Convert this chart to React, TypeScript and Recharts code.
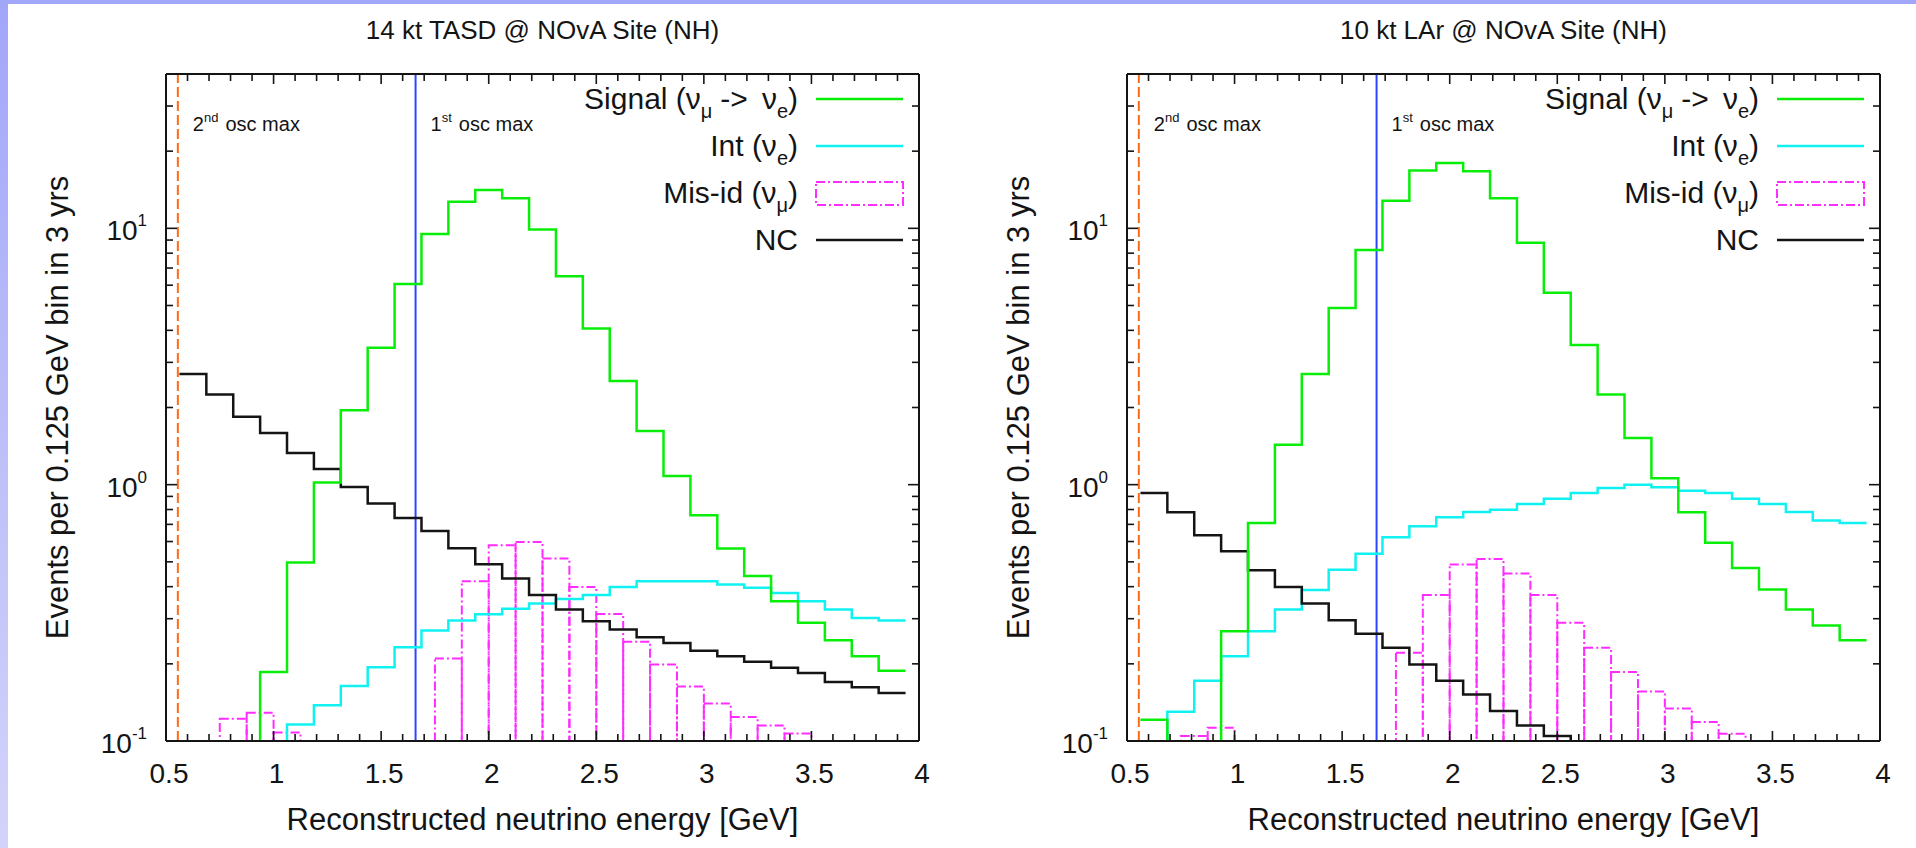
import React from 'react'
import { LineChart, Line, XAxis, YAxis, ReferenceLine, ReferenceArea } from 'recharts'

const FONT = '"Liberation Sans", Arial, Helvetica, sans-serif'
const INK = '#141414'

// reconstructed energy bins: centres in GeV, 0.125 GeV wide
const binCenters = [
  0.625, 0.75, 0.875, 1.0, 1.125, 1.25, 1.375, 1.5, 1.625, 1.75, 1.875, 2.0, 2.125, 2.25,
  2.375, 2.5, 2.625, 2.75, 2.875, 3.0, 3.125, 3.25, 3.375, 3.5, 3.625, 3.75, 3.875,
]
const BIN_WIDTH = 0.125

// mis-id boxes are drawn on a grid shifted by half a bin: lower edges in GeV
const misidLow = [
  0.75, 0.875, 1.0, 1.125, 1.25, 1.375, 1.5, 1.625, 1.75, 1.875, 2.0, 2.125, 2.25, 2.375,
  2.5, 2.625, 2.75, 2.875, 3.0, 3.125, 3.25, 3.375,
]

// 14 kt TASD (null = below the 0.1 floor of the plot)
const tasdSignal = [
  null, null, null, 0.186, 0.497, 1.02, 1.95, 3.42, 6.07, 9.5, 12.7, 14.1, 13.1, 9.9,
  6.5, 4.07, 2.54, 1.62, 1.08, 0.76, 0.564, 0.44, 0.351, 0.289, 0.247, 0.214, 0.188,
]
const tasdInt = [
  null, null, null, null, 0.116, 0.138, 0.164, 0.194, 0.232, 0.27, 0.295, 0.312, 0.328, 0.344,
  0.358, 0.371, 0.399, 0.42, 0.42, 0.42, 0.408, 0.396, 0.378, 0.351, 0.326, 0.302, 0.295,
]
const tasdNC = [
  2.7, 2.25, 1.84, 1.59, 1.33, 1.15, 0.98, 0.845, 0.742, 0.66, 0.565, 0.489, 0.43, 0.371,
  0.326, 0.293, 0.272, 0.254, 0.241, 0.225, 0.214, 0.204, 0.193, 0.184, 0.17, 0.162, 0.154,
]
const tasdMisid = [
  0.122, 0.129, 0.108, null, null, null, null, null, 0.21, 0.42, 0.58, 0.598, 0.515, 0.399,
  0.313, 0.244, 0.199, 0.163, 0.14, 0.124, 0.115, 0.107,
]

// 10 kt LAr
const larSignal = [
  0.121, null, null, 0.268, 0.709, 1.43, 2.7, 4.89, 8.23, 12.8, 16.8, 18.0, 16.7, 13.1,
  8.79, 5.61, 3.51, 2.25, 1.52, 1.06, 0.78, 0.593, 0.473, 0.39, 0.326, 0.282, 0.247,
]
const larInt = [
  null, 0.13, 0.172, 0.214, 0.268, 0.326, 0.388, 0.466, 0.538, 0.623, 0.688, 0.746, 0.782, 0.799,
  0.841, 0.882, 0.928, 0.971, 1.0, 0.976, 0.947, 0.928, 0.882, 0.841, 0.782, 0.724, 0.709,
]
const larNC = [
  0.928, 0.78, 0.635, 0.55, 0.464, 0.399, 0.344, 0.296, 0.262, 0.231, 0.199, 0.172, 0.152, 0.131,
  0.115, 0.1046, null, null, null, null, null, null, null, null, null, null, null,
]
const larMisid = [
  0.1046, 0.1127, null, null, null, null, null, null, 0.221, 0.371, 0.488, 0.513, 0.45, 0.371,
  0.289, 0.231, 0.186, 0.156, 0.134, 0.1186, 0.1068, null,
]

const xTicks = [
  0.5, 0.6, 0.7, 0.8, 0.9, 1, 1.1, 1.2, 1.3, 1.4, 1.5, 1.6, 1.7, 1.8, 1.9, 2, 2.1, 2.2, 2.3, 2.4,
  2.5, 2.6, 2.7, 2.8, 2.9, 3, 3.1, 3.2, 3.3, 3.4, 3.5, 3.6, 3.7, 3.8, 3.9, 4,
]
const yTicks = [0.1, 0.2, 0.3, 0.4, 0.5, 0.6, 0.7, 0.8, 0.9, 1, 2, 3, 4, 5, 6, 7, 8, 9, 10, 20, 30]
const X_DOMAIN: [number, number] = [0.5, 4]
const Y_DOMAIN: [number, number] = [0.1, 40]
const OSC_2ND = 0.555
const OSC_1ST = 1.66

const C = {
  signal: '#08ee08',
  int: '#10f2f2',
  misid: '#ff2cff',
  nc: INK,
  osc1: '#2a46ff',
  osc2: '#ff6a14',
}

type Pt = { x: number; y: number | null }

// histogram outline for a stepAfter line; rises from / drops to the floor around gaps
function toSteps(values: (number | null)[]): Pt[] {
  const floor = Y_DOMAIN[0]
  const pts: Pt[] = []
  values.forEach((v, i) => {
    if (v == null) return
    const lo = binCenters[i] - BIN_WIDTH / 2
    const hi = binCenters[i] + BIN_WIDTH / 2
    const prev = i > 0 ? values[i - 1] : undefined
    const last = i === values.length - 1
    const next = last ? undefined : values[i + 1]
    if (prev === null) pts.push({ x: lo, y: floor })
    pts.push({ x: lo, y: v })
    if (last) pts.push({ x: hi, y: v })
    else if (next === null) pts.push({ x: hi, y: v }, { x: hi, y: floor }, { x: hi, y: null })
  })
  return pts
}

const XTick = (props: any) => {
  const { x, y, payload, side } = props
  const v = payload.value as number
  const major = Math.abs(v * 2 - Math.round(v * 2)) < 1e-6
  const len = major ? 10 : 7
  const dir = side === 'top' ? 1 : -1
  return (
    <g>
      <line x1={x} x2={x} y1={y} y2={y + dir * len} stroke={INK} strokeWidth={1.6} />
      {side === 'bottom' && major && (
        <text x={x + 3} y={y + 42} textAnchor="middle" fontSize={28} fontFamily={FONT} fill={INK}>
          {String(v)}
        </text>
      )}
    </g>
  )
}

const YTick = (props: any) => {
  const { x, y, payload, side } = props
  const v = payload.value as number
  const e = Math.log10(v)
  const major = Math.abs(e - Math.round(e)) < 1e-6
  const len = major ? 11 : 7
  const dir = side === 'left' ? 1 : -1
  return (
    <g>
      <line x1={x} x2={x + dir * len} y1={y} y2={y} stroke={INK} strokeWidth={1.6} />
      {side === 'left' && major && (
        <text x={x - 19} y={y + 12} textAnchor="end" fontSize={28} fontFamily={FONT} fill={INK}>
          10
          <tspan dy={-14} fontSize={17}>
            {String(Math.round(e))}
          </tspan>
        </text>
      )}
    </g>
  )
}

const OscLabel = (props: any) => {
  const { viewBox, n, sup } = props
  if (!viewBox) return null
  return (
    <text x={viewBox.x + 15} y={viewBox.y + 57} fontSize={20} fontFamily={FONT} fill={INK}>
      {n}
      <tspan dy={-9} fontSize={13}>
        {sup}
      </tspan>
      <tspan dy={9} dx={7}>
        osc max
      </tspan>
    </text>
  )
}

type PanelProps = {
  title: string
  signal: (number | null)[]
  intE: (number | null)[]
  nc: (number | null)[]
  misid: (number | null)[]
  left: number
  width: number
  plotLeft: number
}

const H = 848
const PT = 74
const PB = 741
const PLOT_W = 753
const AX = 1 // thickness reserved for each axis box
const frame = { stroke: INK, strokeWidth: 2 }

function Panel({ title, signal, intE, nc, misid, left, width, plotLeft }: PanelProps) {
  const plotRight = plotLeft + PLOT_W
  const cx = (plotLeft + plotRight) / 2
  const cy = (PT + PB) / 2
  const boxes = misidLow
    .map((lo, i) => ({ lo, v: misid[i] }))
    .filter((b) => b.v != null) as { lo: number; v: number }[]
  const tx = plotRight - 121
  const sx1 = plotRight - 103
  const sx2 = plotRight - 16
  const txt = { fontFamily: FONT, fill: INK, whiteSpace: 'pre' as const }

  return (
    <div style={{ position: 'absolute', left, top: 0, width, height: H }}>
      <LineChart
        width={width}
        height={H}
        margin={{
          top: PT - AX,
          bottom: H - PB - AX,
          left: plotLeft - AX,
          right: width - plotRight - AX,
        }}
      >
        <XAxis
          type="number"
          dataKey="x"
          domain={X_DOMAIN}
          allowDataOverflow
          ticks={xTicks}
          interval={0}
          height={AX}
          tickSize={0}
          tickMargin={0}
          tickLine={false}
          axisLine={frame}
          tick={<XTick side="bottom" />}
        />
        <XAxis
          xAxisId="top"
          orientation="top"
          type="number"
          dataKey="x"
          domain={X_DOMAIN}
          allowDataOverflow
          ticks={xTicks}
          interval={0}
          height={AX}
          tickSize={0}
          tickMargin={0}
          tickLine={false}
          axisLine={frame}
          tick={<XTick side="top" />}
        />
        <YAxis
          type="number"
          scale="log"
          domain={Y_DOMAIN}
          allowDataOverflow
          ticks={yTicks}
          interval={0}
          width={AX}
          tickSize={0}
          tickMargin={0}
          tickLine={false}
          axisLine={frame}
          tick={<YTick side="left" />}
        />
        <YAxis
          yAxisId="right"
          orientation="right"
          type="number"
          scale="log"
          domain={Y_DOMAIN}
          allowDataOverflow
          ticks={yTicks}
          interval={0}
          width={AX}
          tickSize={0}
          tickMargin={0}
          tickLine={false}
          axisLine={frame}
          tick={<YTick side="right" />}
        />
        {boxes.map((b) => (
          <ReferenceArea
            key={b.lo}
            x1={b.lo}
            x2={b.lo + BIN_WIDTH}
            y1={Y_DOMAIN[0]}
            y2={b.v}
            fill="none"
            fillOpacity={0}
            stroke={C.misid}
            strokeWidth={2}
            strokeDasharray="9 3 2 3"
          />
        ))}
        <ReferenceLine
          x={OSC_2ND}
          stroke={C.osc2}
          strokeWidth={2}
          strokeDasharray="10 4"
          label={<OscLabel n="2" sup="nd" />}
        />
        <ReferenceLine x={OSC_1ST} stroke={C.osc1} strokeWidth={2} label={<OscLabel n="1" sup="st" />} />
        <Line
          data={toSteps(intE)}
          dataKey="y"
          type="stepAfter"
          stroke={C.int}
          strokeWidth={2.5}
          dot={false}
          activeDot={false}
          isAnimationActive={false}
        />
        <Line
          data={toSteps(nc)}
          dataKey="y"
          type="stepAfter"
          stroke={C.nc}
          strokeWidth={2.5}
          dot={false}
          activeDot={false}
          isAnimationActive={false}
        />
        <Line
          data={toSteps(signal)}
          dataKey="y"
          type="stepAfter"
          stroke={C.signal}
          strokeWidth={2.5}
          dot={false}
          activeDot={false}
          isAnimationActive={false}
        />
      </LineChart>

      <svg
        width={width}
        height={H}
        style={{ position: 'absolute', left: 0, top: 0, pointerEvents: 'none' }}
      >
        <text x={cx} y={39} textAnchor="middle" fontSize={26} {...txt}>
          {title}
        </text>
        <text x={cx} y={830} textAnchor="middle" fontSize={31} {...txt}>
          Reconstructed neutrino energy [GeV]
        </text>
        <text
          x={plotLeft - 109}
          y={cy}
          textAnchor="middle"
          dominantBaseline="central"
          fontSize={31}
          transform={`rotate(-90 ${plotLeft - 109} ${cy})`}
          {...txt}
        >
          Events per 0.125 GeV bin in 3 yrs
        </text>

        {/* legend */}
        <text x={tx} y={109} textAnchor="end" fontSize={30} {...txt}>
          {'Signal (ν'}
          <tspan fontSize={20} dy={9}>
            μ
          </tspan>
          <tspan dy={-9} dx={8}>
            {'->'}
          </tspan>
          <tspan dx={14}>ν</tspan>
          <tspan fontSize={20} dy={9}>
            e
          </tspan>
          <tspan dy={-9}>)</tspan>
        </text>
        <line x1={sx1} x2={sx2} y1={99} y2={99} stroke={C.signal} strokeWidth={2.5} />

        <text x={tx} y={156} textAnchor="end" fontSize={30} {...txt}>
          {'Int (ν'}
          <tspan fontSize={20} dy={9}>
            e
          </tspan>
          <tspan dy={-9}>)</tspan>
        </text>
        <line x1={sx1} x2={sx2} y1={146} y2={146} stroke={C.int} strokeWidth={2.5} />

        <text x={tx} y={203} textAnchor="end" fontSize={30} {...txt}>
          {'Mis-id (ν'}
          <tspan fontSize={20} dy={9}>
            μ
          </tspan>
          <tspan dy={-9}>)</tspan>
        </text>
        <rect
          x={sx1}
          y={182}
          width={sx2 - sx1}
          height={23}
          fill="none"
          stroke={C.misid}
          strokeWidth={2}
          strokeDasharray="9 3 2 3"
        />

        <text x={tx} y={250} textAnchor="end" fontSize={30} {...txt}>
          NC
        </text>
        <line x1={sx1} x2={sx2} y1={240} y2={240} stroke={C.nc} strokeWidth={2.5} />
      </svg>
    </div>
  )
}

export default function App() {
  return (
    <div
      style={{
        position: 'absolute',
        left: 0,
        top: 0,
        width: 1916,
        height: 848,
        overflow: 'hidden',
        background: 'linear-gradient(180deg, #a2a6f8 0%, #bcbef8 50%, #d3d3fa 100%)',
        fontFamily: FONT,
      }}
    >
      <div style={{ position: 'absolute', left: 8, top: 4, right: 0, bottom: 0, background: '#fff' }} />
      <Panel
        title="14 kt TASD @ NOvA Site (NH)"
        signal={tasdSignal}
        intE={tasdInt}
        nc={tasdNC}
        misid={tasdMisid}
        left={0}
        width={960}
        plotLeft={166}
      />
      <Panel
        title="10 kt LAr @ NOvA Site (NH)"
        signal={larSignal}
        intE={larInt}
        nc={larNC}
        misid={larMisid}
        left={960}
        width={956}
        plotLeft={167}
      />
    </div>
  )
}
